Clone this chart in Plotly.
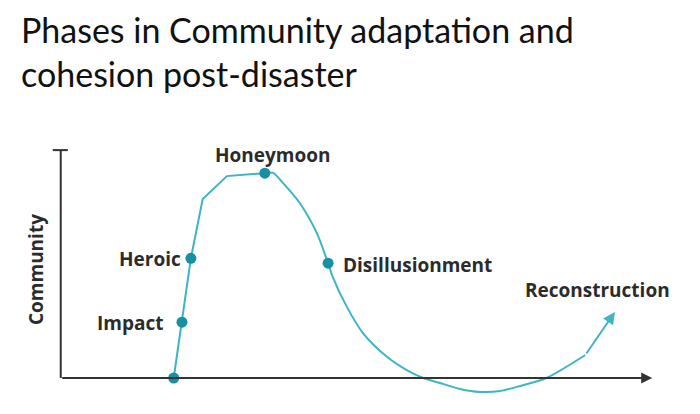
import plotly.graph_objects as go

# community cohesion curve (time 0-100, level 0-100)
rise_t = [19.1, 20.5, 22.0, 24.0, 28.1, 34.5]
rise_v = [0.0, 24.5, 52.5, 78.5, 88.6, 89.9]
fall_t = [34.5, 35.9, 37.6, 40.4, 43.3, 45.2, 46.0, 48.4, 51.1, 55.2, 58.5,
          61.3, 64.1, 67.5, 70.9, 74.3, 77.7, 82.1, 88.7]
fall_v = [89.9, 90.0, 85.5, 76.8, 63.6, 50.4, 44.3, 31.1, 19.7, 9.2, 3.5,
          0.0, -2.2, -4.8, -6.1, -5.7, -3.5, 0.0, 10.1]
arrow_tip = (93.7, 29.0)

# phase markers
phase_names = ["", "Impact", "Heroic", "Honeymoon", "Disillusionment"]
phase_t = [19.1, 20.5, 22.0, 34.5, 45.2]
phase_v = [0.0, 24.5, 52.5, 89.9, 50.4]

title_lines = ["Phases in Community adaptation and", "cohesion post-disaster"]

LINE = "#3fb4c4"
DOT = "#1690a2"
INK = "#333333"
FONT = "Open Sans"

fig = go.Figure()
fig.add_trace(go.Scatter(x=rise_t, y=rise_v, mode="lines",
                         line=dict(color=LINE, width=2), hoverinfo="skip",
                         cliponaxis=False))
fig.add_trace(go.Scatter(x=fall_t, y=fall_v, mode="lines",
                         line=dict(color=LINE, width=2, shape="spline", smoothing=0.8),
                         hoverinfo="skip", cliponaxis=False))
fig.add_trace(go.Scatter(x=phase_t, y=phase_v, mode="markers",
                         marker=dict(color=DOT, size=11), cliponaxis=False,
                         hoverinfo="skip"))

# phase labels
label_style = dict(font=dict(family=FONT, size=19, color="#2b2b2b"), showarrow=False)
for name, t, v in zip(phase_names, phase_t, phase_v):
    if not name:
        continue
    if name == "Honeymoon":
        fig.add_annotation(x=t, y=v, text="<b>%s</b>" % name, xanchor="center",
                           yanchor="bottom", xshift=8, yshift=3, **label_style)
    elif name == "Disillusionment":
        fig.add_annotation(x=t, y=v, text="<b>%s</b>" % name, xanchor="left",
                           yanchor="middle", xshift=13, yshift=-2, **label_style)
    else:
        fig.add_annotation(x=t, y=v, text="<b>%s</b>" % name, xanchor="right",
                           yanchor="middle", xshift=-8 if name == "Heroic" else -17,
                           yshift=-1, **label_style)

# reconstruction arrow + label
fig.add_annotation(x=arrow_tip[0], y=arrow_tip[1], ax=fall_t[-1], ay=fall_v[-1],
                   xref="x", yref="y", axref="x", ayref="y", showarrow=True,
                   arrowhead=2, arrowsize=1.2, arrowwidth=2, arrowcolor=LINE, text="")
fig.add_annotation(x=arrow_tip[0], y=arrow_tip[1], text="<b>Reconstruction</b>",
                   xanchor="center", yanchor="bottom", xshift=-17, yshift=7,
                   **label_style)

# axes drawn by hand
fig.add_shape(type="line", x0=0, y0=0, x1=0, y1=100, line=dict(color=INK, width=2))
fig.add_shape(type="line", x0=-1.35, y0=100, x1=1.2, y1=100, line=dict(color=INK, width=2))
fig.add_annotation(x=100, y=0, ax=0, ay=0, xref="x", yref="y", axref="x", ayref="y",
                   showarrow=True, arrowhead=2, arrowsize=1.1, arrowwidth=2,
                   arrowcolor=INK, text="")
fig.add_annotation(x=-0.012, y=0.50, xref="paper", yref="paper", text="<b>Community</b>",
                   textangle=-90, showarrow=False, xanchor="center", yanchor="middle",
                   font=dict(family=FONT, size=19, color="#2b2b2b"))

# title
fig.add_annotation(x=-0.039, y=1.5214, xref="paper", yref="paper", xanchor="left",
                   yanchor="top", align="left", showarrow=False,
                   text="<br>".join(title_lines),
                   font=dict(family="Lato", size=34, color="#111111"))

fig.update_layout(
    width=684, height=398,
    margin=dict(l=35, r=28, t=133, b=8),
    paper_bgcolor="white", plot_bgcolor="white",
    showlegend=False,
    xaxis=dict(range=[-3, 102], visible=False, fixedrange=True),
    yaxis=dict(range=[-8.77, 104], visible=False, fixedrange=True),
)

fig.write_html("out.html")
